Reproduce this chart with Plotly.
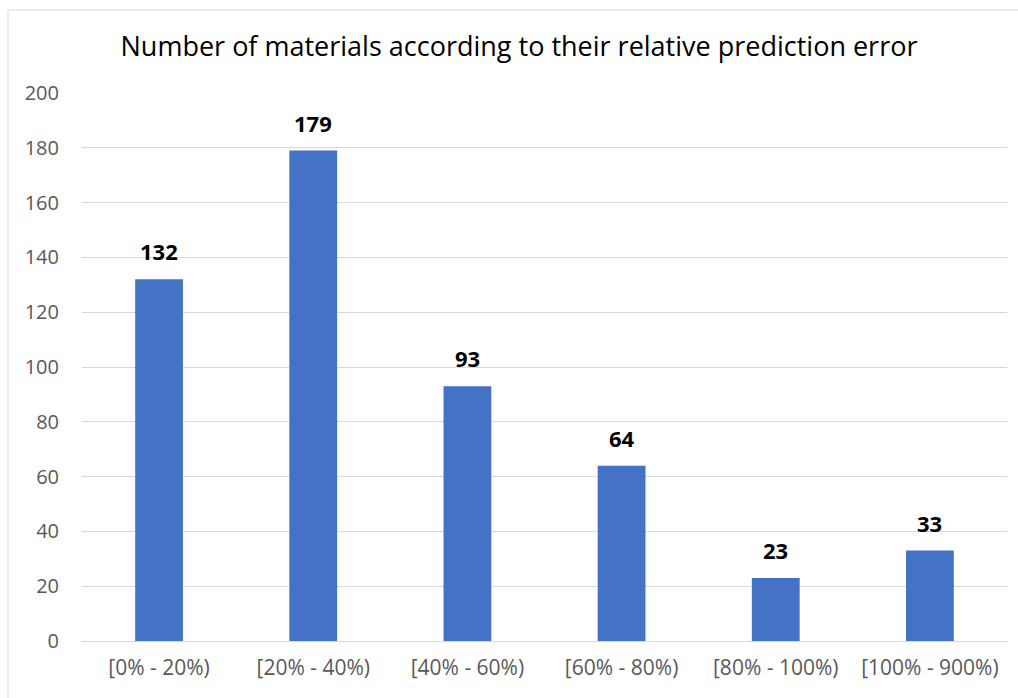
import plotly.graph_objects as go

categories = ["[0% - 20%)", "[20% - 40%)", "[40% - 60%)", "[60% - 80%)", "[80% - 100%)", "[100% - 900%)"]
counts = [132, 179, 93, 64, 23, 33]
y_ticks = [0, 20, 40, 60, 80, 100, 120, 140, 160, 180, 200]

FONT = "Open Sans"

fig = go.Figure(go.Bar(
    x=categories, y=counts,
    marker=dict(color="#4472C4", line=dict(width=0)),
    cliponaxis=False, width=0.31,
))

for c, v in zip(categories, counts):
    fig.add_annotation(x=c, y=v, text=str(v), showarrow=False,
                       xanchor="center", yanchor="bottom", yshift=11,
                       font=dict(family=FONT, size=22, color="#000000", weight="bold"))

fig.update_layout(
    width=1018, height=698,
    margin=dict(l=82, r=11, t=93, b=57),
    paper_bgcolor="white", plot_bgcolor="white",
    showlegend=False,
    title=dict(text="Number of materials according to their relative prediction error",
               x=519/1018, xanchor="center", xref="container",
               y=1 - 47/698, yanchor="middle", yref="container",
               font=dict(family=FONT, size=27, color="#000000")),
    xaxis=dict(showgrid=False, showline=False, ticks="", ticklabelstandoff=12,
               tickfont=dict(family=FONT, size=21, color="#595959")),
    yaxis=dict(range=[0, 200], tickvals=y_ticks, showgrid=True, gridcolor="#D9D9D9",
               gridwidth=1, zeroline=True, zerolinecolor="#D9D9D9", zerolinewidth=1,
               showline=False, ticks="", ticklabelstandoff=22,
               tickfont=dict(family=FONT, size=20, color="#595959")),
    shapes=[dict(type="rect", xref="paper", yref="paper",
                 x0=(8 - 82) / 925, x1=1.05, y0=-0.2, y1=(641 - 10) / 548,
                 line=dict(color="#D9D9D9", width=1), fillcolor="rgba(0,0,0,0)",
                 layer="below")],
)

fig.write_html("out.html")
